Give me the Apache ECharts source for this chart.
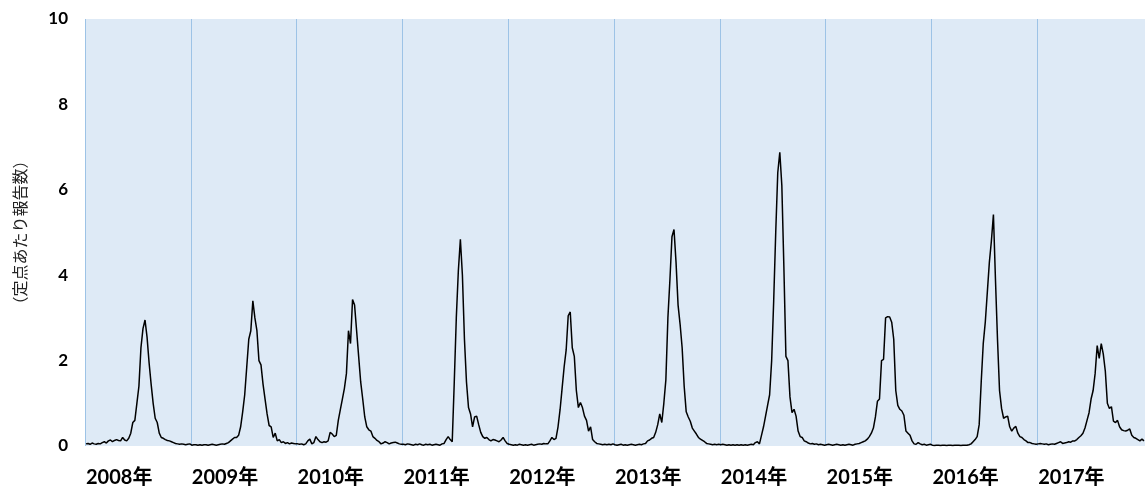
<!DOCTYPE html>
<html>
<head>
<meta charset="utf-8">
<title>定点あたり報告数</title>
<script src="https://cdn.jsdelivr.net/npm/echarts@6/dist/echarts.min.js"></script>
<style>
	html, body { margin: 0; padding: 0; background: #fff; }
	#chart { width: 1145px; height: 488px; }
</style>
</head>
<body>
<div id="chart"></div>
<script>
	// 週ごとの定点あたり報告数（各年52週、2017年のみ53週）
	var years = [2008, 2009, 2010, 2011, 2012, 2013, 2014, 2015, 2016, 2017];
	var yTicks = [0, 2, 4, 6, 8, 10];

	var y2008 = [0.05,0.06,0.04,0.07,0.05,0.04,0.06,0.05,0.08,0.1,
		0.07,0.12,0.14,0.1,0.13,0.15,0.13,0.12,0.2,0.14,
		0.12,0.18,0.3,0.55,0.6,1.0,1.4,2.3,2.75,2.95,
		2.55,1.95,1.45,1.0,0.65,0.55,0.3,0.2,0.18,0.15,
		0.13,0.12,0.1,0.08,0.06,0.05,0.04,0.05,0.04,0.03,
		0.04,0.05];
	var y2009 = [0.02,0.03,0.03,0.02,0.03,0.02,0.03,0.03,0.02,0.03,
		0.04,0.03,0.02,0.03,0.04,0.05,0.04,0.06,0.08,0.12,
		0.16,0.2,0.2,0.25,0.45,0.8,1.2,1.85,2.5,2.7,
		3.4,3.0,2.7,2.0,1.9,1.45,1.1,0.75,0.48,0.45,
		0.2,0.3,0.12,0.15,0.08,0.1,0.06,0.08,0.05,0.07,
		0.06,0.05];
	var y2010 = [0.05,0.04,0.05,0.03,0.05,0.12,0.16,0.05,0.08,0.22,
		0.15,0.1,0.08,0.1,0.09,0.12,0.32,0.28,0.22,0.25,
		0.6,0.85,1.1,1.35,1.7,2.7,2.4,3.43,3.3,2.7,
		2.1,1.5,1.1,0.68,0.45,0.38,0.35,0.22,0.18,0.13,
		0.1,0.05,0.07,0.1,0.08,0.05,0.07,0.08,0.09,0.07,
		0.05,0.04];
	var y2011 = [0.04,0.03,0.05,0.04,0.03,0.02,0.04,0.03,0.05,0.03,
		0.02,0.04,0.03,0.04,0.02,0.03,0.04,0.03,0.02,0.05,
		0.06,0.15,0.22,0.15,0.1,1.5,3.0,4.1,4.84,4.0,
		2.5,1.5,0.9,0.75,0.45,0.68,0.7,0.5,0.32,0.22,
		0.18,0.2,0.15,0.12,0.15,0.14,0.12,0.1,0.14,0.2,
		0.12,0.06];
	var y2012 = [0.04,0.03,0.02,0.03,0.02,0.04,0.03,0.02,0.03,0.02,
		0.03,0.04,0.02,0.03,0.04,0.05,0.04,0.06,0.05,0.05,
		0.12,0.2,0.15,0.18,0.45,0.85,1.35,1.85,2.25,3.05,
		3.14,2.3,2.1,1.3,0.9,1.02,0.9,0.7,0.6,0.35,
		0.45,0.15,0.1,0.06,0.05,0.04,0.03,0.04,0.03,0.04,
		0.03,0.05];
	var y2013 = [0.03,0.02,0.03,0.04,0.02,0.03,0.02,0.03,0.04,0.03,
		0.02,0.03,0.04,0.03,0.05,0.06,0.12,0.14,0.18,0.2,
		0.32,0.5,0.75,0.55,1.0,1.55,3.0,3.9,4.9,5.07,
		4.3,3.3,2.85,2.3,1.4,0.8,0.68,0.58,0.42,0.35,
		0.28,0.2,0.16,0.13,0.1,0.06,0.05,0.04,0.03,0.04,
		0.03,0.04];
	var y2014 = [0.03,0.04,0.03,0.02,0.03,0.02,0.03,0.02,0.03,0.02,
		0.03,0.02,0.03,0.02,0.03,0.04,0.03,0.08,0.1,0.05,
		0.25,0.45,0.7,0.95,1.2,2.0,3.4,5.0,6.4,6.88,
		6.1,4.2,2.1,2.0,1.15,0.78,0.86,0.7,0.35,0.22,
		0.2,0.12,0.1,0.07,0.05,0.06,0.04,0.05,0.03,0.04,
		0.03,0.02];
	var y2015 = [0.03,0.04,0.03,0.02,0.03,0.04,0.03,0.02,0.03,0.02,
		0.03,0.04,0.03,0.02,0.04,0.05,0.06,0.08,0.1,0.12,
		0.16,0.22,0.3,0.42,0.68,1.05,1.1,2.0,2.03,3.0,
		3.03,3.02,2.9,2.5,1.3,0.95,0.86,0.82,0.72,0.35,
		0.3,0.25,0.12,0.05,0.04,0.08,0.05,0.03,0.04,0.02,
		0.03,0.04];
	var y2016 = [0.02,0.01,0.02,0.02,0.01,0.02,0.02,0.01,0.02,0.02,
		0.01,0.02,0.02,0.02,0.01,0.02,0.02,0.02,0.03,0.05,
		0.1,0.15,0.22,0.5,1.5,2.4,2.9,3.6,4.3,4.8,
		5.42,3.9,2.5,1.3,0.88,0.65,0.68,0.7,0.45,0.35,
		0.42,0.46,0.3,0.22,0.2,0.15,0.12,0.08,0.08,0.06,
		0.05,0.04];
	var y2017 = [0.05,0.06,0.05,0.04,0.05,0.03,0.04,0.05,0.04,0.06,
		0.08,0.1,0.06,0.07,0.08,0.1,0.09,0.12,0.12,0.15,
		0.2,0.24,0.3,0.42,0.6,0.78,1.1,1.3,1.7,2.35,
		2.05,2.4,2.15,1.75,1.0,0.88,0.92,0.58,0.55,0.6,
		0.45,0.38,0.36,0.35,0.37,0.4,0.25,0.2,0.18,0.15,
		0.12,0.16,0.12];

	var WEEKS = 52;
	var values = [].concat(y2008, y2009, y2010, y2011, y2012, y2013, y2014, y2015, y2016, y2017);
	var cats = values.map(function (v, i) { return String(i); });

	// 年の先頭週だけラベル・区切り線を出す
	function isYearStart(index) {
		return index % WEEKS === 0 && index / WEEKS < years.length;
	}

	var FONT = 'Lato, "Noto Sans CJK JP", sans-serif';
	var chart = echarts.init(document.getElementById('chart'));
	var option = {
		animation: false,
		grid: {
			left: 85, right: 0, top: 19, bottom: 41,
			show: true,
			backgroundColor: '#DEEAF6',
			borderWidth: 0
		},
		xAxis: {
			type: 'category',
			data: cats,
			boundaryGap: true,
			axisLine: { show: false },
			axisTick: { show: false, interval: isYearStart },
			splitLine: {
				show: true,
				interval: isYearStart,
				lineStyle: { color: '#9DC3E6', width: 1 }
			},
			axisLabel: {
				interval: isYearStart,
				align: 'left',
				margin: 22,
				color: '#000',
				fontFamily: FONT,
				fontWeight: 'bold',
				fontSize: 20,
				formatter: function (v, idx) {
					return years[idx / WEEKS] + '年';
				}
			}
		},
		yAxis: {
			type: 'value',
			min: yTicks[0],
			max: yTicks[yTicks.length - 1],
			interval: 2,
			name: '（定点あたり報告数）',
			nameLocation: 'middle',
			nameRotate: 90,
			nameGap: 56,
			nameTextStyle: { color: '#222', fontSize: 16, fontFamily: FONT },
			axisLine: { show: false },
			axisTick: { show: false },
			splitLine: { show: false },
			axisLabel: {
				margin: 17,
				color: '#000',
				fontFamily: FONT,
				fontWeight: 'bold',
				fontSize: 17
			}
		},
		series: [{
			type: 'line',
			data: values,
			showSymbol: false,
			lineStyle: { color: '#000', width: 1.5 }
		}]
	};
	chart.setOption(option);
</script>
</body>
</html>
